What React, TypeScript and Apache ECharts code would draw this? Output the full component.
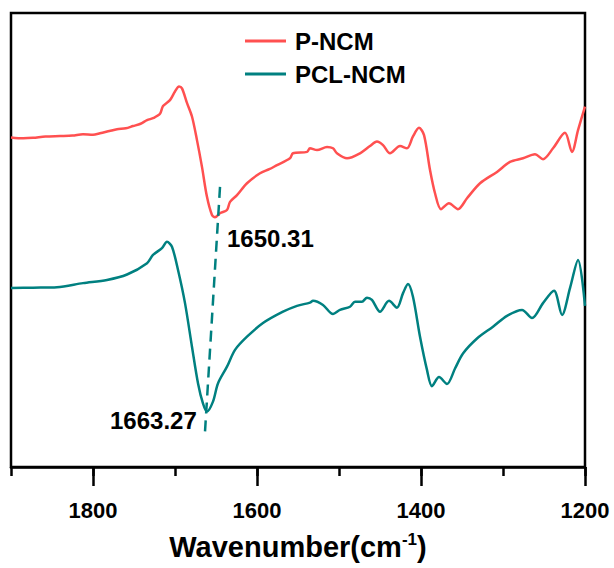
import React, { useEffect, useRef } from "react";
import * as echarts from "echarts";

const seriesNames = ["P-NCM", "PCL-NCM"];
const majorTicks = [1200, 1400, 1600, 1800];

const pNcm: [number, number][] = [
  [1900, 72.6], [1885, 72.4], [1873.2, 72.5], [1858, 72.8], [1840.2, 72.9], [1825, 73.0], [1812.2, 73.3],
  [1800, 73.2], [1791.5, 73.5], [1780, 74.0], [1770.7, 74.4], [1760, 74.6], [1751.2, 75.1], [1742, 75.6],
  [1734.1, 76.4], [1726, 76.9], [1718.3, 77.8], [1714.6, 79.5], [1706.1, 80.8], [1700.0, 82.7],
  [1695.1, 83.8], [1691.5, 83.4], [1685.4, 80.2], [1679.3, 77.2], [1673.2, 72.0],
  [1667.1, 66.1], [1661.0, 59.5], [1654.9, 55.5], [1651.2, 55.0], [1645.1, 55.9],
  [1636.6, 56.6], [1632.9, 58.4], [1624.4, 59.9], [1612.2, 62.5], [1596.3, 64.7],
  [1585, 65.6], [1575.6, 66.5], [1559.8, 68.0], [1556.1, 69.1], [1539.0, 69.4], [1535.4, 70.2],
  [1526.8, 69.8], [1514.6, 70.5], [1507.3, 70.2], [1502.4, 69.1], [1490.2, 68.0],
  [1474.4, 69.1], [1462.2, 70.7], [1453.7, 71.7], [1446.3, 70.9], [1437.8, 69.1],
  [1425.6, 70.7], [1417.1, 70.2], [1409.8, 72.8], [1402.4, 74.7], [1396.3, 73.1],
  [1389.0, 65.4], [1382.9, 60.3], [1375.6, 56.8], [1365.9, 58.1], [1354.9, 56.8],
  [1343.9, 59.2], [1328.0, 62.5], [1307.3, 65.0], [1291.5, 67.2], [1275.6, 68.0],
  [1261.0, 68.9], [1251.2, 67.8], [1239.0, 70.2], [1224.4, 73.6], [1215.9, 69.4],
  [1208.5, 74.2], [1200, 79.4],
];

const pclNcm: [number, number][] = [
  [1900, 39.4], [1873.2, 39.5], [1843.9, 39.6], [1812.2, 40.5], [1782.9, 41.2],
  [1758.5, 42.4], [1734.1, 44.9], [1726.8, 46.7], [1715.9, 48.2], [1709.8, 49.6],
  [1703.7, 48.5], [1696.3, 43.4], [1687.8, 36.1], [1679.3, 26.5], [1671.9, 18.4],
  [1665.9, 14.0], [1661.0, 12.2], [1653.7, 14.4], [1647.6, 18.4], [1636.6, 22.1],
  [1626.8, 25.8], [1612.2, 28.7], [1592.7, 31.7], [1568.3, 34.2], [1551.2, 35.5],
  [1535.4, 36.2], [1531.7, 36.6], [1519.5, 35.7], [1507.3, 33.7], [1498.8, 34.6],
  [1486.6, 35.3], [1480.5, 36.4], [1472.0, 36.4], [1465.9, 37.3], [1459.8, 36.8],
  [1450.0, 34.2], [1439.0, 36.6], [1429.3, 35.1], [1421.9, 38.3], [1415.9, 40.3],
  [1409.8, 37.5], [1401.2, 28.7], [1392.7, 21.4], [1386.6, 17.8], [1378.0, 19.8],
  [1368.3, 18.3], [1358.5, 21.7], [1348.8, 25.0], [1331.7, 28.3], [1312.2, 30.9],
  [1295.1, 33.3], [1276.8, 34.6], [1264.6, 32.8], [1251.2, 36.1], [1237.8, 38.8],
  [1228.0, 33.5], [1218.3, 39.4], [1208.5, 45.6], [1200, 35.5],
];

const guideLine: [number, number][] = [[1645.1, 61.7], [1663.4, 7.8]];
const peakLabels = ["1650.31", "1663.27"];

const RED = "#FF5050";
const TEAL = "#008080";
const FONT = "'Liberation Sans', Arial, sans-serif";

export default function App() {
  const ref = useRef<HTMLDivElement>(null);
  useEffect(() => {
    document.body.style.margin = "0";
    if (!ref.current) return;
    const chart = echarts.init(ref.current, null, { renderer: "svg" });
    chart.setOption({
      animation: false,
      grid: {
        left: 11, right: 29, top: 13, bottom: 101,
        show: true, borderColor: "#000", borderWidth: 2.5,
      },
      legend: {
        data: seriesNames,
        orient: "vertical",
        left: 245, top: 29, padding: 0,
        icon: "rect", itemWidth: 41, itemHeight: 3, itemGap: 9,
        textStyle: { fontFamily: FONT, fontWeight: "bold", fontSize: 24, color: "#000", lineHeight: 24, padding: [0, 0, 0, 4] },
      },
      xAxis: [
        {
          type: "value", min: 1200, max: 1900, interval: 100, inverse: true, position: "bottom",
          splitLine: { show: false },
          axisLine: { show: true, lineStyle: { color: "#000", width: 2.5 } },
          axisTick: { show: true, length: 9, lineStyle: { color: "#000", width: 2.5 } },
          axisLabel: { show: false },
        },
        {
          type: "value", min: 1200, max: 1900, interval: 200, inverse: true, position: "bottom",
          splitLine: { show: false },
          axisLine: { show: false },
          axisTick: { show: true, length: 19, customValues: majorTicks, lineStyle: { color: "#000", width: 2.5 } },
          axisLabel: {
            margin: 32,
            showMaxLabel: false,
            formatter: (v: number) => (v === 1900 ? "" : String(v)),
            fontFamily: FONT, fontWeight: "bold", fontSize: 22, color: "#000",
          },
          name: "{a|Wavenumber(cm}{b|-1}{a|)}",
          nameLocation: "middle",
          nameGap: 64,
          nameTextStyle: {
            rich: {
              a: { fontFamily: FONT, fontWeight: "bold", fontSize: 29, color: "#000" },
              b: { fontFamily: FONT, fontWeight: "bold", fontSize: 17, color: "#000", verticalAlign: "top", padding: [0, 0, 14, 0] },
            },
          },
        },
      ],
      yAxis: { type: "value", min: 0, max: 100, show: false },
      series: [
        {
          name: seriesNames[0], type: "line", data: pNcm, xAxisIndex: 0, showSymbol: false,
          smooth: 0.3, lineStyle: { color: RED, width: 2.5 }, itemStyle: { color: RED },
        },
        {
          name: seriesNames[1], type: "line", data: pclNcm, xAxisIndex: 0, showSymbol: false,
          smooth: 0.3, lineStyle: { color: TEAL, width: 2.5 }, itemStyle: { color: TEAL },
        },
        {
          name: "guide", type: "line", data: guideLine, xAxisIndex: 0, showSymbol: false,
          lineStyle: { color: TEAL, width: 2.5, type: [11, 7] }, itemStyle: { color: TEAL },
        },
      ],
      graphic: [
        {
          type: "text", left: 227, top: 226,
          style: { text: peakLabels[0], font: `bold 24px ${FONT}`, fill: "#000" },
        },
        {
          type: "text", left: 110, top: 408,
          style: { text: peakLabels[1], font: `bold 24px ${FONT}`, fill: "#000" },
        },
      ],
    });
    return () => chart.dispose();
  }, []);
  return <div ref={ref} style={{ width: 614, height: 568 }} />;
}
